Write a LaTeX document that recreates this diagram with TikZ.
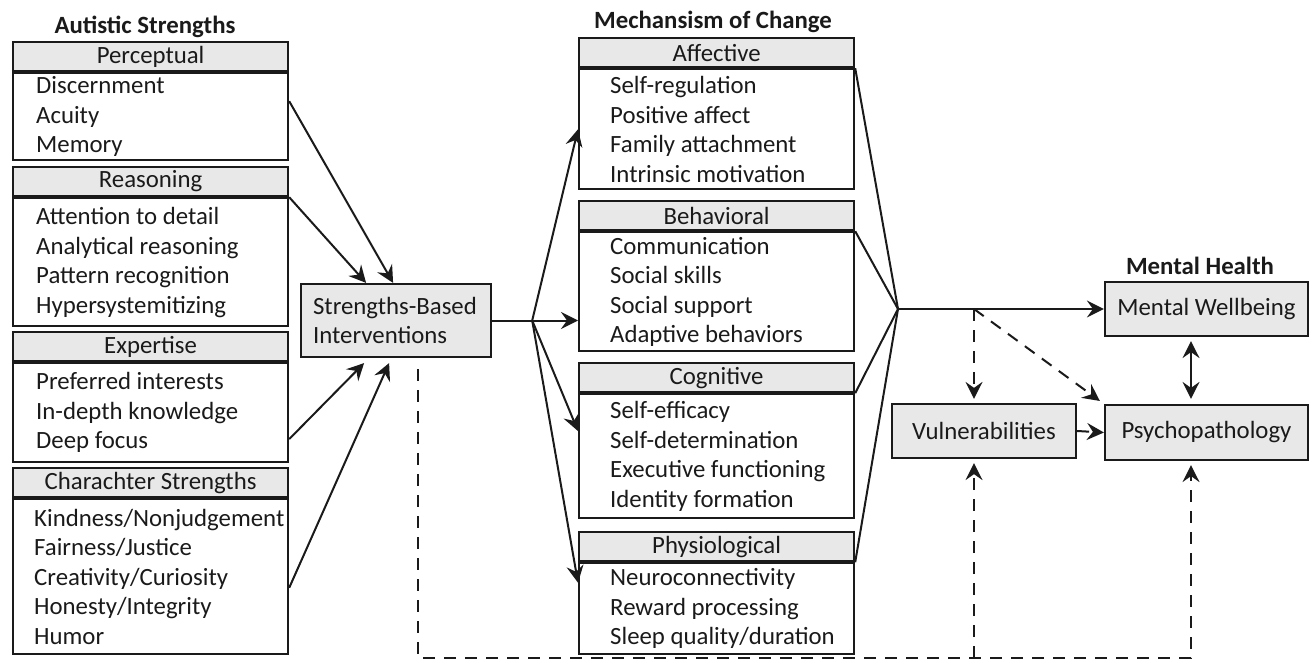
\documentclass[tikz,border=0pt]{standalone}
\usepackage{fontspec}
\setmainfont{Carlito}
\usetikzlibrary{arrows.meta,calc}
\definecolor{boxgray}{HTML}{E8E8E8}
\definecolor{ink}{HTML}{1A1A1A}
\tikzset{
  every node/.style={font=\fontsize{24.8}{29.5}\selectfont, text=ink},
  hdr/.style={draw=ink, fill=boxgray, line width=2.2pt, anchor=north west, minimum width=275, minimum height=29, inner sep=0pt},
  body/.style={draw=ink, line width=2.2pt, anchor=north west, minimum width=275, inner sep=0pt},
  items/.style={anchor=west, align=left, inner sep=0pt},
  ttl/.style={font=\bfseries\fontsize{24.8}{29.5}\selectfont},
  gbox/.style={draw=ink, fill=boxgray, line width=2.2pt, inner sep=0pt},
  plain/.style={draw=ink, line width=2pt},
  arr/.style={plain, -{Stealth[length=17pt,width=17pt,inset=6pt]}},
  dsh/.style={arr, dash pattern=on 12pt off 9pt}
}
\begin{document}
\begin{tikzpicture}[x=1pt,y=-1pt]
\useasboundingbox (0,0) rectangle (1309,660);
\node[ttl] (astr) at (145,27) {Autistic Strengths};
\node[hdr] (perc) at (12,41) {Perceptual};
\node[body, minimum height=87] (percL) at (perc.south west) {};
\node[items] (percI) at ([xshift=24pt]percL.west) {Discernment\\Acuity\\Memory};
\node[hdr] (reas) at (12,166) {Reasoning};
\node[body, minimum height=128] (reasL) at (reas.south west) {};
\node[items] (reasI) at ([xshift=24pt]reasL.west) {Attention to detail\\Analytical reasoning\\Pattern recognition\\Hypersystemitizing};
\node[hdr] (exper) at (12,331) {Expertise};
\node[body, minimum height=99] (experL) at (exper.south west) {};
\node[items] (experI) at ([xshift=24pt]experL.west) {Preferred interests\\In-depth knowledge\\Deep focus};
\node[hdr] (char) at (12,467) {Charachter Strengths};
\node[body, minimum height=155] (charL) at (char.south west) {};
\node[items] (charI) at ([xshift=22pt]charL.west) {Kindness/Nonjudgement\\Fairness/Justice\\Creativity/Curiosity\\Honesty/Integrity\\Humor};

\node[gbox, anchor=west, align=left, text width=166, inner xsep=12pt, minimum height=73] (sbi) at (300,320.5) {Strengths-Based\\Interventions};

\node[ttl] (moc) at (713,22) {Mechansism of Change};
\node[hdr] (aff) at (578,37) {Affective};
\node[body, minimum height=120] (affL) at (aff.south west) {};
\node[items] (affI) at ([xshift=32pt]affL.west) {Self-regulation\\Positive affect\\Family attachment\\Intrinsic motivation};
\node[hdr] (beh) at (578,200) {Behavioral};
\node[body, minimum height=119] (behL) at (beh.south west) {};
\node[items] (behI) at ([xshift=32pt]behL.west) {Communication\\Social skills\\Social support\\Adaptive behaviors};
\node[hdr] (cog) at (578,362) {Cognitive};
\node[body, minimum height=124] (cogL) at (cog.south west) {};
\node[items] (cogI) at ([xshift=32pt]cogL.west) {Self-efficacy\\Self-determination\\Executive functioning\\Identity formation};
\node[hdr] (phys) at (578,531) {Physiological};
\node[body, minimum height=91] (physL) at (phys.south west) {};
\node[items] (physI) at ([xshift=32pt]physL.west) {Neuroconnectivity\\Reward processing\\Sleep quality/duration};

\node[ttl] (mh) at (1200,266) {Mental Health};
\node[gbox, minimum width=203, minimum height=54] (mw) at (1206.5,309) {Mental Wellbeing};
\node[gbox, minimum width=203, minimum height=55] (psy) at (1206.5,432.5) {Psychopathology};
\node[gbox, minimum width=184, minimum height=54] (vul) at (984,431) {Vulnerabilities};

\draw[arr] ($(perc.north east)!0.5!(percL.south east)$) -- ([xshift=-3pt]sbi.north);
\draw[arr] (reas.south east) -- ([xshift=-30pt]sbi.north);
\draw[arr] ($(experL.north east)!0.76!(experL.south east)$) -- ([shift={(-32,5)}]sbi.south);
\draw[arr] ($(charL.north east)!0.57!(charL.south east)$) -- ([shift={(-7,5)}]sbi.south);

\coordinate (split) at ($(sbi.east)+(40,0)$);
\draw[plain] (sbi.east) -- (split);
\draw[arr] (split) -- (affL.west);
\draw[arr] (split) -- (split -| behL.west);
\draw[arr] (split) -- ($(cog.south west)!0.3!(cogL.south west)$);
\draw[arr] (split) -- ($(phys.south west)!0.22!(physL.south west)$);

\coordinate (join) at (898,309);
\foreach \b in {aff,beh,cog,phys}
  \draw[plain] (\b.south east) -- (join);
\draw[arr] (join) -- (mw.west);
\coordinate (fork) at (974,309);
\draw[dsh, shorten >=4pt] (fork) -- (fork |- vul.north);
\draw[dsh, shorten >=5pt] (fork) -- (psy.north west);
\draw[dsh] (vul.east) -- (psy.west);
\draw[arr, {Stealth[length=17pt,width=17pt,inset=6pt]}-{Stealth[length=17pt,width=17pt,inset=6pt]}, shorten <=4pt, shorten >=5pt] ([xshift=-15.5pt]mw.south) -- ([xshift=-15.5pt]psy.north);

\coordinate (bot) at (1191,658);
\draw[dsh, shorten >=4pt] ($(sbi.south)+(22,11)$) |- (bot) -- (bot |- psy.south);
\draw[dsh, shorten >=4pt] (fork |- bot) -- (fork |- vul.south);
\end{tikzpicture}
\end{document}
